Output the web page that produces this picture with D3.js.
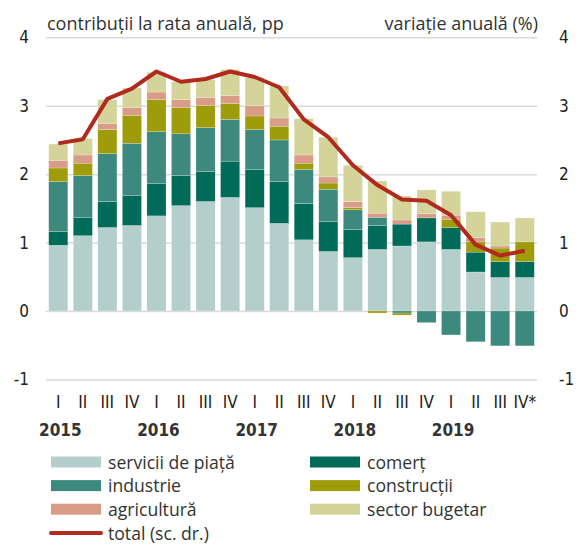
<!DOCTYPE html>
<html>
<head>
<meta charset="utf-8">
<script src="https://cdn.jsdelivr.net/npm/d3@7"></script>
<style>
  body { margin: 0; background: #fff; }
  svg { display: block; }
</style>
</head>
<body>
<div id="chart"></div>
<script>

// trimestre si ani
var quarters = ["I","II","III","IV","I","II","III","IV","I","II","III","IV","I","II","III","IV","I","II","III","IV*"];
var years = ["2015","2016","2017","2018","2019"];

// contributii pe sectoare, pp
var servicii    = [0.96,1.10,1.22,1.25,1.39,1.54,1.60,1.66,1.51,1.28,1.04,0.87,0.78,0.90,0.95,1.01,0.90,0.57,0.49,0.49];
var comert      = [0.20,0.27,0.38,0.44,0.47,0.44,0.44,0.53,0.56,0.61,0.53,0.44,0.41,0.35,0.32,0.35,0.32,0.29,0.23,0.23];
var industrie   = [0.73,0.61,0.70,0.76,0.76,0.61,0.64,0.61,0.58,0.61,0.50,0.47,0.29,0.12,-0.03,-0.17,-0.35,-0.45,-0.51,-0.51];
var constructii = [0.20,0.18,0.35,0.41,0.47,0.38,0.32,0.23,0.20,0.20,0.09,0.09,0.03,-0.03,-0.03,0.00,0.12,0.15,0.20,0.29];
var agricultura = [0.11,0.12,0.09,0.11,0.11,0.12,0.12,0.12,0.15,0.12,0.12,0.09,0.09,0.06,0.06,0.06,0.06,0.06,0.03,0.00];
var bugetar     = [0.24,0.24,0.35,0.29,0.29,0.26,0.26,0.38,0.41,0.47,0.53,0.58,0.53,0.47,0.35,0.35,0.35,0.38,0.35,0.35];

// variatie anuala totala, % (scala dreapta)
var total = [2.45,2.51,3.10,3.25,3.50,3.35,3.39,3.50,3.42,3.27,2.80,2.54,2.13,1.84,1.63,1.61,1.40,0.97,0.81,0.88];

var yTicks = [-1,0,1,2,3,4];

var keys   = ["servicii","comert","industrie","constructii","agricultura","bugetar"];
var series = [servicii, comert, industrie, constructii, agricultura, bugetar];
var colors = ["#b4cfcb","#006b58","#3d897d","#9e9c0b","#d99c86","#d4d49a"];
var labels = ["servicii de piață","comerț","industrie","construcții","agricultură","sector bugetar"];


var width = 579,
    height = 545;

var left = 46, right = 537;

var svg = d3.select("#chart")
            .append("svg")
            .attr("width", width)
            .attr("height", height);

var x = d3.scaleBand()
          .domain(d3.range(quarters.length))
          .range([left, right])
          .paddingInner(0.22)
          .paddingOuter(0.11);

var y = d3.scaleLinear()
          .domain([-1, 4])
          .range([379.4, 37.3]);

var color = d3.scaleOrdinal()
              .domain(keys)
              .range(colors);

// gridlines
svg.append("g")
    .attr("transform", "translate(" + left + ",0)")
    .call(d3.axisLeft(y).tickValues(yTicks).tickSize(-(right - left)).tickFormat(""))
    .call(function(g) { g.select(".domain").remove(); })
    .selectAll("line")
        .attr("stroke", "#d9d9d9")
        .attr("stroke-width", 1.5);

// axe y (cratima simpla la -1)
var tickFont = "'Liberation Sans Narrow','DejaVu Sans Condensed',sans-serif";
var fmt = function(d) { return String(d); };

svg.append("g")
    .attr("transform", "translate(" + left + ",0)")
    .call(d3.axisLeft(y).tickValues(yTicks).tickSize(0).tickPadding(17).tickFormat(fmt))
    .call(function(g) { g.select(".domain").remove(); })
    .selectAll("text")
        .attr("font-family", tickFont)
        .attr("font-size", 17)
        .attr("fill", "#222");

svg.append("g")
    .attr("transform", "translate(" + right + ",0)")
    .call(d3.axisRight(y).tickValues(yTicks).tickSize(0).tickPadding(22).tickFormat(fmt))
    .call(function(g) { g.select(".domain").remove(); })
    .selectAll("text")
        .attr("font-family", tickFont)
        .attr("font-size", 17)
        .attr("fill", "#222");

// date pentru stack
var table = quarters.map(function(q, i) {
    var row = { i: i };
    keys.forEach(function(k, j) { row[k] = series[j][i]; });
    return row;
});

var stacked = d3.stack()
                .keys(keys)
                .offset(d3.stackOffsetDiverging)(table);

svg.append("g")
    .selectAll("g")
    .data(stacked)
    .enter()
    .append("g")
        .attr("fill", function(d) { return color(d.key); })
    .selectAll("rect")
    .data(function(d) { return d; })
    .enter()
    .append("rect")
        .attr("x", function(d) { return x(d.data.i); })
        .attr("width", x.bandwidth())
        .attr("y", function(d) { return y(Math.max(d[0], d[1])); })
        .attr("height", function(d) { return Math.abs(y(d[0]) - y(d[1])); })
        .attr("stroke", "#fff")
        .attr("stroke-width", 0.4)
        .attr("stroke-opacity", 0.5);

// linia total
var line = d3.line()
             .x(function(d, i) { return x(i) + x.bandwidth() / 2; })
             .y(function(d) { return y(d); });

svg.append("path")
    .datum(total)
    .attr("d", line)
    .attr("fill", "none")
    .attr("stroke", "#b02a1e")
    .attr("stroke-width", 4)
    .attr("stroke-linejoin", "round");

// axa x: trimestre
svg.append("g")
    .attr("transform", "translate(0,396)")
    .call(d3.axisBottom(x).tickSize(0).tickPadding(0).tickFormat(function(d) { return quarters[d]; }))
    .call(function(g) { g.select(".domain").remove(); })
    .selectAll("text")
        .attr("font-family", tickFont)
        .attr("font-size", 17)
        .attr("fill", "#222");

svg.append("g")
    .selectAll("text")
    .data(years)
    .enter()
    .append("text")
        .attr("x", function(d, i) { return x(i * 4) + x.bandwidth() / 2 + 2; })
        .attr("y", 436)
        .attr("text-anchor", "middle")
        .attr("font-family", tickFont)
        .attr("font-weight", "bold")
        .attr("font-size", 17)
        .attr("fill", "#333")
        .text(function(d) { return d; });

// titluri
var textFont = "'Open Sans',sans-serif";

svg.append("text")
    .attr("x", 47)
    .attr("y", 30)
    .attr("font-family", textFont)
    .attr("font-size", 18)
    .attr("fill", "#333")
    .text("contribuții la rata anuală, pp");

svg.append("text")
    .attr("x", 538)
    .attr("y", 30)
    .attr("text-anchor", "end")
    .attr("font-family", textFont)
    .attr("font-size", 18)
    .attr("fill", "#333")
    .text("variație anuală (%)");

// legenda
var legendOrder = [0, 2, 4, 1, 3, 5];
var legend = svg.append("g")
    .selectAll("g")
    .data(legendOrder)
    .enter()
    .append("g")
        .attr("transform", function(d, n) {
            var col = Math.floor(n / 3), row = n % 3;
            return "translate(" + (51 + col * 259) + "," + (462 + row * 23.6) + ")";
        });

legend.append("rect")
    .attr("x", 0)
    .attr("y", -5.5)
    .attr("width", 50)
    .attr("height", 11)
    .attr("fill", function(d) { return colors[d]; });

legend.append("text")
    .attr("x", 57)
    .attr("y", 6.5)
    .attr("font-family", textFont)
    .attr("font-size", 17.6)
    .attr("fill", "#333")
    .text(function(d) { return labels[d]; });

var totalLegend = svg.append("g")
    .attr("transform", "translate(51,533)");

totalLegend.append("line")
    .attr("x1", 0)
    .attr("x2", 50)
    .attr("stroke", "#b02a1e")
    .attr("stroke-width", 4)
    .attr("stroke-linecap", "round");

totalLegend.append("text")
    .attr("x", 57)
    .attr("y", 6.5)
    .attr("font-family", textFont)
    .attr("font-size", 17.6)
    .attr("fill", "#333")
    .text("total (sc. dr.)");

</script>
</body>
</html>
